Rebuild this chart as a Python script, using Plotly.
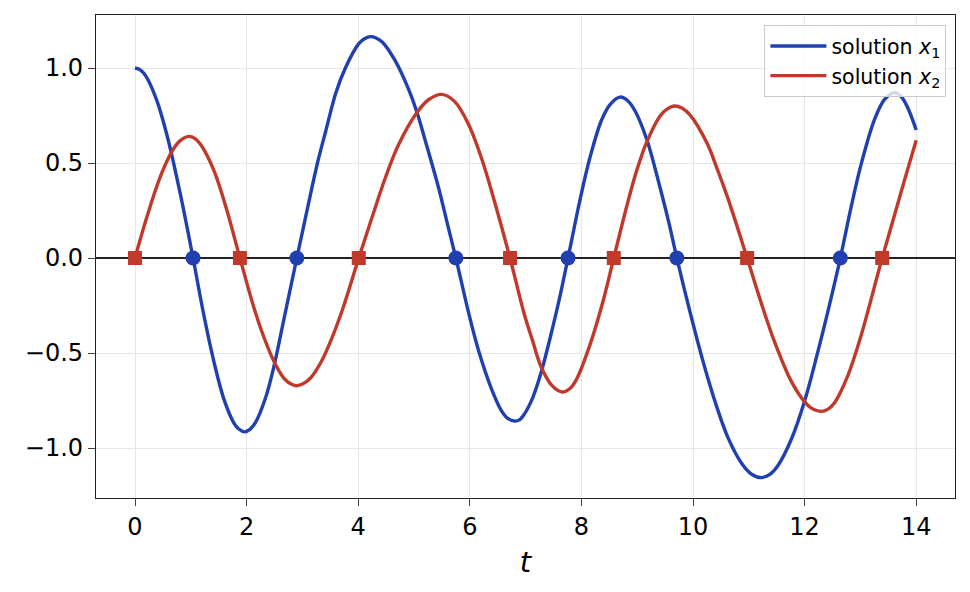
import plotly.graph_objects as go

# values
t1 = [0.0, 0.1, 0.2, 0.39, 0.57, 0.81, 1.04, 1.23, 1.41, 1.59, 1.77, 1.86, 1.96, 2.06, 2.16, 2.34,
      2.49, 2.67, 2.90, 3.09, 3.27, 3.42, 3.60, 3.77, 4.01, 4.12, 4.22, 4.32, 4.43, 4.66, 4.90,
      5.05, 5.20, 5.44, 5.60, 5.75, 5.97, 6.15, 6.39, 6.56, 6.68, 6.80, 6.89, 6.98, 7.13, 7.28,
      7.49, 7.62, 7.76, 7.97, 8.15, 8.36, 8.52, 8.69, 8.83, 8.96, 9.17, 9.41, 9.56, 9.71, 9.95,
      10.19, 10.42, 10.63, 10.87, 11.05, 11.22, 11.37, 11.52, 11.76, 12.0, 12.24, 12.44, 12.64,
      12.84, 13.01, 13.25, 13.43, 13.61, 13.73, 13.85, 14.0]
x1 = [1.0, 0.989, 0.955, 0.83, 0.65, 0.34, 0.0, -0.295, -0.54, -0.74, -0.867, -0.90, -0.915, -0.902,
      -0.865, -0.735, -0.57, -0.32, 0.0, 0.26, 0.50, 0.67, 0.87, 1.0, 1.128, 1.155, 1.165, 1.158,
      1.137, 1.04, 0.89, 0.77, 0.62, 0.37, 0.178, 0.0, -0.278, -0.48, -0.69, -0.80, -0.844,
      -0.858, -0.852, -0.82, -0.733, -0.60, -0.36, -0.195, 0.0, 0.30, 0.525, 0.725, 0.81, 0.847,
      0.828, 0.775, 0.625, 0.37, 0.195, 0.0, -0.288, -0.555, -0.778, -0.948, -1.08, -1.138,
      -1.156, -1.14, -1.093, -0.955, -0.752, -0.49, -0.253, 0.0, 0.277, 0.49, 0.727, 0.834,
      0.87, 0.85, 0.79, 0.674]

t2 = [0.0, 0.21, 0.45, 0.66, 0.81, 0.97, 1.07, 1.17, 1.41, 1.65, 1.88, 2.13, 2.31, 2.50,
      2.67, 2.78, 2.89, 3.02, 3.15, 3.33, 3.51, 3.72, 4.01, 4.25, 4.49, 4.72, 5.05, 5.26, 5.50,
      5.73, 5.97, 6.21, 6.45, 6.72, 6.98, 7.13, 7.28, 7.47, 7.66, 7.80, 7.91, 8.15, 8.39, 8.58,
      8.81, 8.99, 9.17, 9.41, 9.54, 9.66, 9.80, 9.95, 10.25, 10.42, 10.63, 10.97, 11.22, 11.46,
      11.76, 12.0, 12.12, 12.30, 12.42, 12.54, 12.78, 13.01, 13.39, 13.61, 13.79, 14.0]
x2 = [0.0, 0.213, 0.426, 0.56, 0.618, 0.64, 0.63, 0.60, 0.464, 0.247, 0.0, -0.26, -0.417, -0.55,
      -0.633, -0.66, -0.672, -0.66, -0.63, -0.55, -0.435, -0.27, 0.0, 0.216, 0.425, 0.595, 0.765,
      0.833, 0.861, 0.823, 0.708, 0.525, 0.29, 0.0, -0.30, -0.44, -0.575, -0.67, -0.705, -0.685,
      -0.64, -0.46, -0.225, 0.0, 0.27, 0.46, 0.61, 0.748, 0.785, 0.80, 0.79, 0.752, 0.605, 0.48,
      0.31, 0.0, -0.234, -0.44, -0.648, -0.757, -0.79, -0.807, -0.795, -0.76, -0.615, -0.41, 0.0,
      0.225, 0.41, 0.62]

# zero crossings
z1 = [1.04, 2.90, 5.75, 7.76, 9.71, 12.64]
z2 = [0.0, 1.88, 4.01, 6.72, 8.58, 10.97, 13.39]

xticks = [0, 2, 4, 6, 8, 10, 12, 14]
yticks = [-1.0, -0.5, 0.0, 0.5, 1.0]
ytext = ['\u22121.0', '\u22120.5', '0.0', '0.5', '1.0']

blue = '#2040b0'
red = '#c0392b'

fig = go.Figure()

fig.add_trace(go.Scatter(x=t1, y=x1, mode='lines', line=dict(color=blue, width=3.4, shape='spline', smoothing=1.0),
                         name='solution <i>x</i><sub>1</sub>'))
fig.add_trace(go.Scatter(x=t2, y=x2, mode='lines', line=dict(color=red, width=3.4, shape='spline', smoothing=1.0),
                         name='solution <i>x</i><sub>2</sub>'))
fig.add_trace(go.Scatter(x=z1, y=[0] * len(z1), mode='markers', showlegend=False,
                         marker=dict(color=blue, size=15, symbol='circle')))
fig.add_trace(go.Scatter(x=z2, y=[0] * len(z2), mode='markers', showlegend=False,
                         marker=dict(color=red, size=14, symbol='square')))

# page body adds ~8px offset, so margins are shifted to compensate
fig.update_layout(
    width=970, height=592,
    margin=dict(l=88, r=23, t=7, b=102),
    plot_bgcolor='white', paper_bgcolor='white',
    font=dict(family='DejaVu Sans', size=24, color='black'),
    legend=dict(x=0.99, y=0.979, xanchor='right', yanchor='top', itemwidth=56,
                bordercolor='#cccccc', borderwidth=1, bgcolor='rgba(255,255,255,0.8)',
                font=dict(size=20.5)),
)
fig.update_xaxes(range=[-0.699, 14.695], tickvals=xticks, ticks='outside', ticklen=7, tickwidth=1.3,
                 showline=True, linecolor='#222222', linewidth=1.3, mirror=True,
                 showgrid=True, gridcolor='#e6e6e6', gridwidth=1, zeroline=False,
                 title=dict(text='<i>t</i>', standoff=11))
fig.update_yaxes(range=[-1.263, 1.279], tickvals=yticks, ticktext=ytext, ticks='outside', ticklen=7,
                 tickwidth=1.3, showline=True, linecolor='#222222', linewidth=1.3, mirror=True,
                 showgrid=True, gridcolor='#e6e6e6', gridwidth=1,
                 zeroline=True, zerolinecolor='#222222', zerolinewidth=1.5)

fig.write_html("out.html")
